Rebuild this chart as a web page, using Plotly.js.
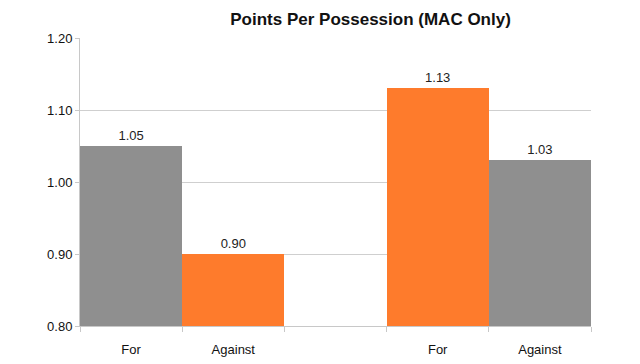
<!DOCTYPE html>
<html>
<head>
<meta charset="utf-8">
<script src="https://cdn.plot.ly/plotly-3.0.1.min.js"></script>
<style>html,body{margin:0;padding:0;background:#fff;}#chart{width:640px;height:364px;}</style>
</head>
<body>
<div id="chart"></div>
<script>
var categories = ["For (1)", "Against (1)", "gap", "For (2)", "Against (2)"];
var tickLabels = ["For", "Against", "", "For", "Against"];
var values = [1.05, 0.90, null, 1.13, 1.03];
var barColors = ["#8f8f8f", "#fe7b2c", "#ffffff", "#fe7b2c", "#8f8f8f"];
var yTicks = [0.80, 0.90, 1.00, 1.10, 1.20];

var font = "Liberation Sans, Arial, sans-serif";

var trace = {
  type: "bar",
  x: categories,
  y: values,
  marker: {color: barColors, line: {width: 0}},
  text: values.map(function(v){ return v === null ? "" : v.toFixed(2); }),
  textposition: "outside",
  textfont: {family: font, size: 13, color: "#222"},
  cliponaxis: false,
  hoverinfo: "none"
};

var layout = {
  width: 640, height: 364,
  margin: {l: 80, r: 49, t: 38, b: 38},
  paper_bgcolor: "#fff", plot_bgcolor: "#fff",
  bargap: 0,
  showlegend: false,
  title: {text: "<b>Points Per Possession (MAC Only)</b>", x: 0.579, xanchor: "center", y: 0.949, yanchor: "middle",
          font: {family: font, size: 17, color: "#111"}},
  xaxis: {
    type: "category",
    categoryorder: "array", categoryarray: categories,
    tickmode: "array", tickvals: categories, ticktext: tickLabels,
    tickson: "boundaries",
    ticks: "outside", ticklen: 5, tickcolor: "#c8c8c8",
    showline: true, linecolor: "#c8c8c8", linewidth: 1,
    showgrid: false,
    ticklabelstandoff: 11,
    tickfont: {family: font, size: 13, color: "#111"},
    fixedrange: true
  },
  yaxis: {
    range: [0.8, 1.2],
    tickmode: "array", tickvals: yTicks, ticktext: yTicks.map(function(v){return v.toFixed(2);}),
    ticks: "outside", ticklen: 4, tickcolor: "#c8c8c8",
    showline: true, linecolor: "#c8c8c8", linewidth: 1,
    showgrid: true, gridcolor: "#cfcfcf", gridwidth: 1,
    zeroline: false,
    tickfont: {family: font, size: 13, color: "#111"},
    fixedrange: true
  }
};

Plotly.newPlot("chart", [trace], layout, {displayModeBar: false, staticPlot: true});
</script>
</body>
</html>
